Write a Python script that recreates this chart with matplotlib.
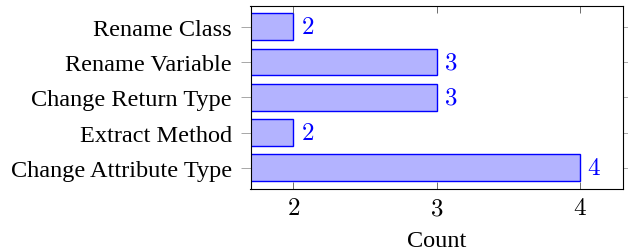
import matplotlib.pyplot as plt
import numpy as np

categories = ['Rename Class', 'Rename Variable', 'Change Return Type',
              'Extract Method', 'Change Attribute Type']
counts = [2, 3, 3, 2, 4]
xticks = [2, 3, 4]

plt.rcParams['font.family'] = ['Liberation Serif', 'DejaVu Serif']
plt.rcParams['mathtext.fontset'] = 'cm'

fig = plt.figure(figsize=(6.28, 2.53), dpi=100)
ax = fig.add_axes([250.5 / 628, 1 - 190 / 253, 372 / 628, 183.3 / 253])

y = np.arange(len(categories))
ax.barh(y, counts, height=0.76, left=0, color='#b3b3ff', edgecolor='#0000ff', linewidth=1.0)

for yi, c in zip(y, counts):
    ax.annotate('$%d$' % c, (c, yi), xytext=(5.5, 0), textcoords='offset points',
                ha='left', va='center', color='#0000ff', fontsize=18)

ax.set_xlim(1.7, 4.3)
ax.set_ylim(4.6, -0.6)
ax.set_yticks(y)
ax.set_yticklabels(categories, fontsize=17.5)
ax.set_xticks(xticks)
ax.set_xticklabels(['$%d$' % t for t in xticks], fontsize=18)
ax.set_xlabel('Count', fontsize=17.5, labelpad=7.5)

ax.tick_params(axis='x', direction='in', top=True, length=5, width=0.6, color='#555555', pad=6)
ax.tick_params(axis='y', direction='out', right=True, length=7.5, width=0.6, color='#999999', pad=6)
for s in ax.spines.values():
    s.set_linewidth(0.8)

fig.savefig('out.png', dpi=100)
